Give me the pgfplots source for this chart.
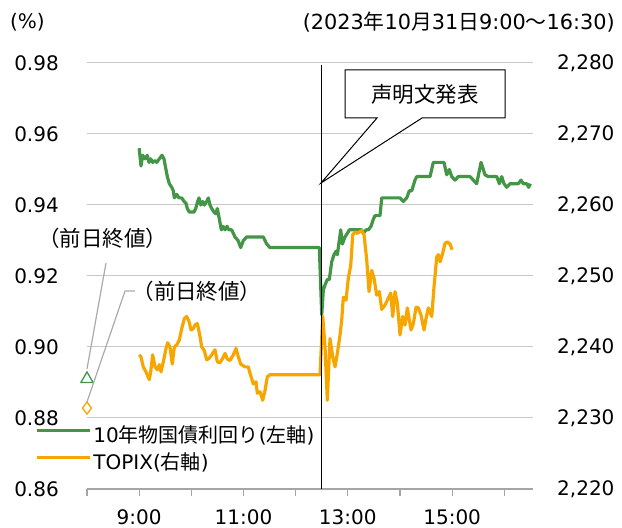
\documentclass[border=0pt]{standalone}
\usepackage{pgfplots}
\usepackage{pgfplotstable}
\pgfplotsset{compat=1.18}
\usepackage{fontspec}
\setmainfont{DejaVu Sans}
\newfontfamily\jp{Noto Sans CJK JP}
\definecolor{cgreen}{RGB}{67,150,70}
\definecolor{corange}{RGB}{247,166,0}
\definecolor{gridgray}{RGB}{200,200,200}
\definecolor{axgray}{RGB}{165,165,165}
\definecolor{anngray}{RGB}{170,170,170}

\pgfplotstableread{
h v
9.000 0.956
9.035 0.951
9.068 0.954
9.112 0.953
9.156 0.954
9.189 0.952
9.221 0.953
9.260 0.952
9.304 0.9525
9.336 0.952
9.386 0.953
9.438 0.954
9.476 0.953
9.501 0.951
9.540 0.948
9.578 0.946
9.624 0.945
9.655 0.944
9.674 0.942
9.720 0.943
9.764 0.942
9.816 0.942
9.860 0.941
9.898 0.9405
9.923 0.939
9.961 0.938
10.007 0.938
10.051 0.938
10.084 0.939
10.122 0.941
10.147 0.942
10.180 0.940
10.218 0.941
10.249 0.940
10.295 0.941
10.326 0.942
10.358 0.940
10.391 0.939
10.435 0.938
10.473 0.9375
10.498 0.939
10.525 0.937
10.550 0.935
10.575 0.933
10.607 0.934
10.646 0.933
10.684 0.934
10.720 0.933
10.774 0.933
10.837 0.931
10.895 0.930
10.947 0.928
10.997 0.930
11.062 0.931
11.380 0.931
11.445 0.929
11.508 0.928
12.454 0.928
12.500 0.909
12.530 0.916
12.563 0.9175
12.607 0.919
12.645 0.919
12.691 0.924
12.735 0.926
12.774 0.927
12.799 0.926
12.837 0.930
12.864 0.933
12.895 0.929
12.946 0.931
12.990 0.932
13.029 0.933
13.075 0.933
13.138 0.933
13.234 0.933
13.267 0.933
13.297 0.932
13.349 0.933
13.393 0.933
13.445 0.934
13.489 0.936
13.522 0.937
13.617 0.937
13.650 0.942
13.694 0.942
14.000 0.942
14.064 0.941
14.129 0.942
14.179 0.944
14.225 0.944
14.288 0.947
14.321 0.948
14.576 0.948
14.639 0.952
14.844 0.952
14.896 0.9485
14.946 0.950
14.992 0.948
15.055 0.947
15.118 0.948
15.343 0.948
15.470 0.946
15.554 0.952
15.630 0.9485
15.694 0.948
15.855 0.948
15.905 0.946
15.950 0.948
15.994 0.946
16.046 0.945
16.110 0.946
16.269 0.946
16.320 0.947
16.365 0.946
16.430 0.946
16.466 0.945
16.500 0.946
}\greendata

\pgfplotstableread{
h v
9.000 2238.9
9.035 2238.6
9.079 2237.2
9.131 2236.5
9.194 2235.4
9.221 2236.5
9.259 2238.9
9.304 2237.2
9.348 2236.8
9.386 2237.5
9.419 2236.5
9.463 2237.9
9.515 2239.8
9.547 2240.6
9.591 2240.0
9.635 2237.6
9.674 2240.0
9.720 2240.3
9.770 2241.0
9.816 2242.6
9.866 2244.0
9.911 2244.3
9.956 2243.6
9.994 2242.4
10.038 2242.6
10.071 2243.1
10.115 2243.3
10.166 2241.5
10.199 2240.0
10.243 2239.6
10.295 2238.2
10.339 2238.4
10.391 2238.9
10.454 2239.6
10.498 2237.9
10.550 2237.8
10.602 2238.4
10.646 2239.1
10.690 2238.3
10.742 2238.1
10.805 2238.9
10.857 2239.8
10.901 2238.6
10.947 2237.6
11.029 2237.2
11.092 2237.2
11.125 2236.3
11.188 2234.8
11.240 2235.1
11.265 2233.5
11.317 2233.7
11.369 2232.5
11.413 2233.9
11.457 2235.8
11.508 2236.1
12.467 2236.1
12.519 2244.3
12.563 2240.0
12.607 2232.5
12.659 2241.2
12.711 2238.6
12.755 2237.2
12.799 2239.1
12.851 2241.7
12.883 2243.8
12.914 2247.0
12.966 2246.6
13.010 2249.7
13.056 2251.5
13.094 2255.8
13.138 2256.2
13.182 2256.0
13.220 2256.2
13.267 2256.4
13.311 2255.8
13.362 2252.3
13.407 2247.8
13.458 2250.8
13.502 2249.7
13.554 2247.3
13.604 2247.8
13.650 2245.3
13.713 2245.9
13.777 2246.9
13.823 2247.6
13.861 2244.3
13.905 2247.8
13.949 2246.2
14.001 2241.7
14.051 2244.3
14.097 2243.1
14.141 2245.5
14.179 2243.8
14.212 2242.4
14.256 2243.3
14.308 2245.6
14.352 2245.5
14.403 2244.5
14.461 2242.4
14.499 2244.0
14.543 2245.5
14.609 2244.3
14.653 2248.5
14.705 2252.7
14.735 2253.0
14.768 2252.0
14.819 2253.2
14.863 2254.6
14.908 2254.8
14.959 2254.5
15.000 2253.7
}\orangedata

\begin{document}
\begin{tikzpicture}[font=\fontsize{20}{24}\selectfont]
\begin{axis}[
  at={(0,0)}, anchor=south west,
  scale only axis, width=446pt, height=426pt,
  xmin=8, xmax=16.55, ymin=0.86, ymax=0.98,
  clip=false,
  axis x line*=bottom,
  x axis line style={draw=axgray, line width=1.2pt, -},
  y axis line style={draw=none},
  xtick={8,9,10,11,12,13,14,15,16},
  xticklabels={,9:00,,11:00,,13:00,,15:00,},
  tick align=outside, major tick length=7pt,
  xtick style={draw=axgray, line width=1.2pt},
  xticklabel style={anchor=center, yshift=-21pt, inner sep=0pt},
  ytick={0.86,0.88,0.90,0.92,0.94,0.96,0.98},
  yticklabels={0.86,0.88,0.90,0.92,0.94,0.96,0.98},
  ytick style={draw=none},
  yticklabel style={anchor=east, inner sep=0pt, xshift=-21pt},
  ymajorgrids, grid style={draw=gridgray, line width=1pt},
  legend cell align=left,
  legend style={draw=none, fill=none, inner sep=0pt,
    at={(axis description cs:0,0)}, anchor=south west,
    xshift=-52pt, yshift=15pt, row sep=9pt, column sep=2pt,
    nodes={inner sep=0pt, text height=14pt, text depth=4pt, anchor=west}},
  legend image code/.code={\draw[#1] (0pt,7pt) -- (53pt,7pt);},
]
\addplot[cgreen, line width=3.2pt, line join=round] table[x=h, y=v] {\greendata};
\addlegendentry{10{\jp 年物国債利回り}({\jp 左軸})}
\addlegendimage{corange, line width=3.2pt}
\addlegendentry{TOPIX({\jp 右軸})}
\addplot[forget plot, only marks, mark=triangle*, mark size=7pt,
  mark options={draw=cgreen, fill=white, line width=1.3pt}] coordinates {(8,0.891)};
\end{axis}
\begin{axis}[
  at={(0,0)}, anchor=south west,
  scale only axis, width=446pt, height=426pt,
  xmin=8, xmax=16.55, ymin=2220, ymax=2280,
  clip=false,
  axis x line=none, axis y line*=right,
  y axis line style={draw=none},
  ytick={2220,2230,2240,2250,2260,2270,2280},
  yticklabels={{2,220},{2,230},{2,240},{2,250},{2,260},{2,270},{2,280}},
  ytick style={draw=none},
  yticklabel style={anchor=west, inner sep=0pt, xshift=24pt},
]
\addplot[corange, line width=3.2pt, line join=round] table[x=h, y=v] {\orangedata};
\addplot[only marks, mark=diamond*, mark size=6pt,
  mark options={draw=corange, fill=white, line width=1.3pt}] coordinates {(8,2231.4)};
\draw[black, line width=1pt] (axis cs:12.5,2220) -- (axis cs:12.5,2279.7);
\end{axis}
% annotations (pt coordinates relative to axis lower-left)
\draw[anngray, line width=1.2pt] (0pt,120pt) -- (19pt,226pt);
\draw[anngray, line width=1.2pt] (0pt,87pt) -- (38pt,198pt) -- (48pt,198pt);
\node[anchor=center, inner sep=0pt, font=\fontsize{21.5}{24}\selectfont] at (16pt,251pt) {{\jp （前日終値）}};
\node[anchor=center, inner sep=0pt, font=\fontsize{21.5}{24}\selectfont] at (110pt,198pt) {{\jp （前日終値）}};
\draw[black, line width=1pt, fill=white] (258pt,419pt) -- (418pt,419pt) -- (418pt,371pt) -- (335pt,371pt) -- (234pt,306pt) -- (290pt,371pt) -- (258pt,371pt) -- cycle;
\node[anchor=center, inner sep=0pt, font=\fontsize{21.5}{24}\selectfont] at (338pt,395pt) {{\jp 声明文発表}};
\node[anchor=west, inner sep=0pt] at (-77pt,467pt) {(\%)};
\node[anchor=east, inner sep=0pt, font=\fontsize{20.8}{24}\selectfont] at (528pt,467pt) {(2023{\jp 年}10{\jp 月}31{\jp 日}9:00{\jp ～}16:30)};
\pgfresetboundingbox
\path[use as bounding box] (-87pt,-39pt) rectangle (535pt,489pt);
\end{tikzpicture}
\end{document}
